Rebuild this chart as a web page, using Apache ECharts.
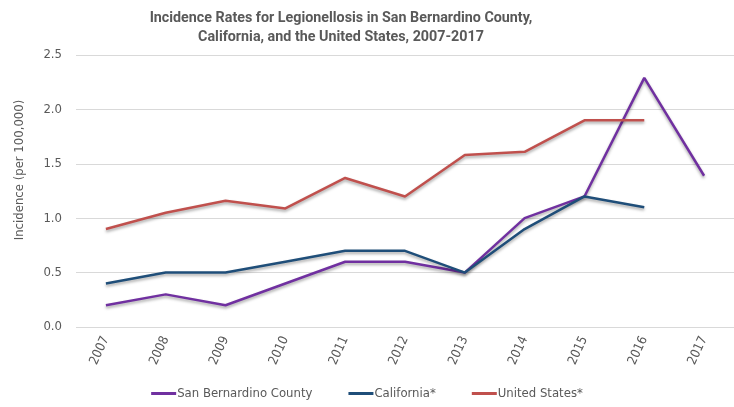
<!DOCTYPE html>
<html><head><meta charset="utf-8">
<script src="https://cdn.jsdelivr.net/npm/echarts@6/dist/echarts.min.js"></script>
<style>html,body{margin:0;padding:0;background:#fff}#c{width:734px;height:407px}</style>
</head><body><div id="c"></div>
<script>
const years = ['2007','2008','2009','2010','2011','2012','2013','2014','2015','2016','2017'];
const sanBernardino = [0.2, 0.3, 0.2, 0.4, 0.6, 0.6, 0.5, 1.0, 1.2, 2.29, 1.39];
const california = [0.4, 0.5, 0.5, 0.6, 0.7, 0.7, 0.5, 0.9, 1.2, 1.1, null];
const unitedStates = [0.9, 1.05, 1.16, 1.09, 1.37, 1.2, 1.58, 1.61, 1.9, 1.9, null];
const yTicks = [0, 0.5, 1.0, 1.5, 2.0, 2.5];

const TITLE1 = 'Incidence Rates for Legionellosis in San Bernardino County,';
const TITLE2 = 'California, and the United States, 2007-2017';
const FONT = '"DejaVu Sans Condensed", "Open Sans", sans-serif';
const TFONT = 'Roboto, "DejaVu Sans Condensed", sans-serif';
const GRAY = '#595959';
function fitSize(text, family, weight, target) {
  const ctx = document.createElement('canvas').getContext('2d');
  ctx.font = weight + ' 100px ' + family;
  return Math.round(1000 * target / ctx.measureText(text).width) / 10;
}
const titleSize = Math.min(17, fitSize(TITLE1, TFONT, 'bold', 382));

function mk(name, data, color) {
  return {
    name, type: 'line', data, symbol: 'none', connectNulls: false,
    lineStyle: { color, width: 2.5, shadowColor: 'rgba(0,0,0,0.35)', shadowBlur: 3, shadowOffsetY: 2 },
    itemStyle: { color }
  };
}
const chart = echarts.init(document.getElementById('c'), null, { renderer: 'canvas' });
chart.setOption({
  animation: false,
  backgroundColor: '#fff',
  title: {
    text: TITLE1 + '\n' + TITLE2,
    left: 336, top: 4, textAlign: 'center',
    textStyle: { fontFamily: TFONT, fontSize: titleSize, fontWeight: 'bold', color: GRAY, lineHeight: 19 }
  },
  legend: {
    bottom: 2, left: 'center', itemWidth: 25, itemHeight: 3, itemGap: 36,
    icon: 'rect',
    textStyle: { fontFamily: FONT, fontSize: 13, color: GRAY, padding: [0,0,0,-4] },
    data: ['San Bernardino County', 'California*', 'United States*']
  },
  grid: { left: 76, right: 0, top: 55, bottom: 80, containLabel: false },
  xAxis: {
    type: 'category', data: years, boundaryGap: true,
    axisLine: { show: false }, axisTick: { show: false },
    axisLabel: { rotate: 65, color: GRAY, fontFamily: FONT, fontSize: 13, margin: 10, interval: 0 }
  },
  yAxis: {
    type: 'value', min: 0, max: 2.5, interval: 0.5,
    name: 'Incidence (per 100,000)', nameLocation: 'middle', nameGap: 50, nameRotate: 90,
    nameTextStyle: { color: GRAY, fontFamily: FONT, fontSize: 13, padding: [0, 0, 0, 42] },
    axisLine: { show: false }, axisTick: { show: false },
    axisLabel: { color: GRAY, fontFamily: FONT, fontSize: 13, margin: 14, formatter: v => yTicks.includes(v) ? v.toFixed(1) : '' },
    splitLine: { lineStyle: { color: '#d9d9d9', width: 1 } }
  },
  series: [
    mk('San Bernardino County', sanBernardino, '#7030A0'),
    mk('California*', california, '#1F4E79'),
    mk('United States*', unitedStates, '#C0504D')
  ]
});
</script></body></html>
